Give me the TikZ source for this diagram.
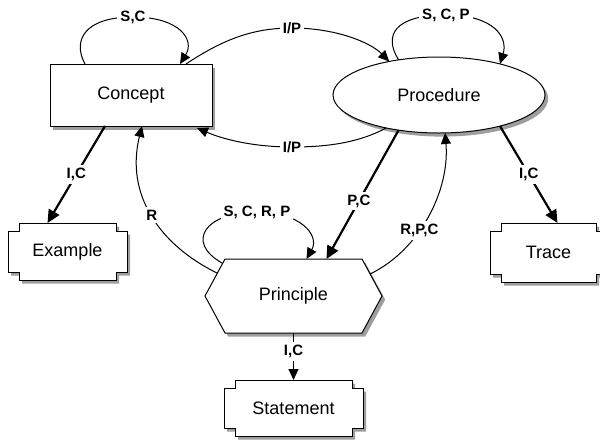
\documentclass[tikz,border=0pt]{standalone}
\usepackage{fontspec}
\setmainfont{Liberation Sans}
\usetikzlibrary{arrows.meta, calc, shapes.geometric, backgrounds}
\colorlet{shadowgray}{black!38}

\begin{document}
\begin{tikzpicture}[x=0.5pt, y=-0.5pt, >={Triangle[length=5.5pt, width=5pt]},
    every node/.style={font=\fontsize{9}{11}\selectfont, inner sep=0pt, outer sep=0pt},
    shadowed/.style={preaction={draw=none, fill=shadowgray, transform canvas={xshift=1.6pt, yshift=-1.8pt}}},
    lbl/.style={fill=white, inner sep=1.5pt, font=\fontsize{7.5}{8}\selectfont\bfseries},
    rel/.style={->, line width=0.5pt},
    strongrel/.style={-{Triangle[length=6.5pt, width=6pt]}, line width=1.1pt}]
    \useasboundingbox (0,0) rectangle (600,440);

    % knowledge types
    \node[draw, fill=white, shadowed, line width=0.5pt, minimum width=81pt, minimum height=31pt] (concept) at (131,95) {Concept};
    \node[ellipse, draw, fill=white, shadowed, line width=0.5pt, minimum width=106pt, minimum height=38pt] (procedure) at (439,95) {Procedure};
    \node[minimum width=88.5pt, minimum height=37pt] (principle) at (293.5,296) {Principle};
    \node[minimum width=59.5pt, minimum height=28.5pt] (example) at (67.5,251.5) {Example};
    \node[minimum width=58.5pt, minimum height=29.5pt] (trace) at (548.5,252.5) {Trace};
    \node[minimum width=69.5pt, minimum height=28pt] (statement) at (293.5,408) {Statement};

    % outlines behind the texts
    \begin{pgfonlayer}{background}
        \foreach \n in {example, trace, statement}
            \draw[shadowed, fill=white, line width=0.5pt] ($(\n.north west)+(11,0)$) -- ($(\n.north east)+(-11,0)$) -- ++(0,8) -- ++(11,0)
                -- ($(\n.south east)+(0,-8)$) -- ++(-11,0) -- ++(0,8) -- ($(\n.south west)+(11,0)$) -- ++(0,-8) -- ++(-11,0)
                -- ($(\n.north west)+(0,8)$) -- ++(11,0) -- cycle;
        \draw[shadowed, fill=white, line width=0.5pt] (principle.west) -- ($(principle.north west)+(20,0)$) -- ($(principle.north east)+(-20,0)$)
            -- (principle.east) -- ($(principle.south east)+(-20,0)$) -- ($(principle.south west)+(20,0)$) -- cycle;
    \end{pgfonlayer}

    % self loops
    \draw[rel] ($(concept.north)+(-46,0)$) .. controls (72,40) and (85,17) .. (133,17) node[lbl] (scConcept) {S,C}
        .. controls (180,17) and (195,40) .. ($(concept.north)+(49,0)$);
    \draw[rel] (procedure.139) .. controls (383,35) and (395,15) .. (446,15) node[lbl] (scpProcedure) {S, C, P}
        .. controls (495,15) and (508,38) .. (procedure.27);
    \draw[rel] ($(principle.north west)+(17,4)$) .. controls (185,242) and (205,212) .. (257,212) node[lbl] (scrpPrinciple) {S, C, R, P}
        .. controls (300,212) and (320,235) .. ($(principle.north)+(13,0)$);

    % between concept and procedure
    \draw[rel] ($(concept.north)+(55,0)$) .. controls (225,38) and (255,28) .. (292,28) node[lbl] (ipTop) {I/P}
        .. controls (335,28) and (370,42) .. (procedure.146);
    \draw[rel] (procedure.212) .. controls (360,142) and (330,147) .. (292,147) node[lbl] (ipBottom) {I/P}
        .. controls (255,147) and (225,140) .. ($(concept.south east)+(-15,2)$);

    % principle
    \draw[rel] ($(principle.north west)+(12,14)$) .. controls (160,245) and (125,195) .. node[lbl, pos=0.5] (rPrinciple) {R} ($(concept.south)+(11,0)$);
    \draw[rel] ($(principle.north east)+(-12,15)$) .. controls (420,250) and (450,190) .. node[lbl, pos=0.4] (rpcPrinciple) {R,P,C} (procedure.-81);
    \draw[strongrel] (procedure.221) -- node[lbl, pos=0.55] (pcProcedure) {P,C} ($(principle.north)+(33,0)$);

    % instances
    \draw[strongrel] ($(concept.south)+(-26,0)$) -- node[lbl] (icExample) {I,C} ($(example.north)+(-20,0)$);
    \draw[strongrel] (procedure.-27) -- node[lbl] (icTrace) {I,C} ($(trace.north)+(9,0)$);
    \draw[rel] (principle.south) -- node[lbl, pos=0.4] (icStatement) {I,C} (statement.north);
\end{tikzpicture}
\end{document}
